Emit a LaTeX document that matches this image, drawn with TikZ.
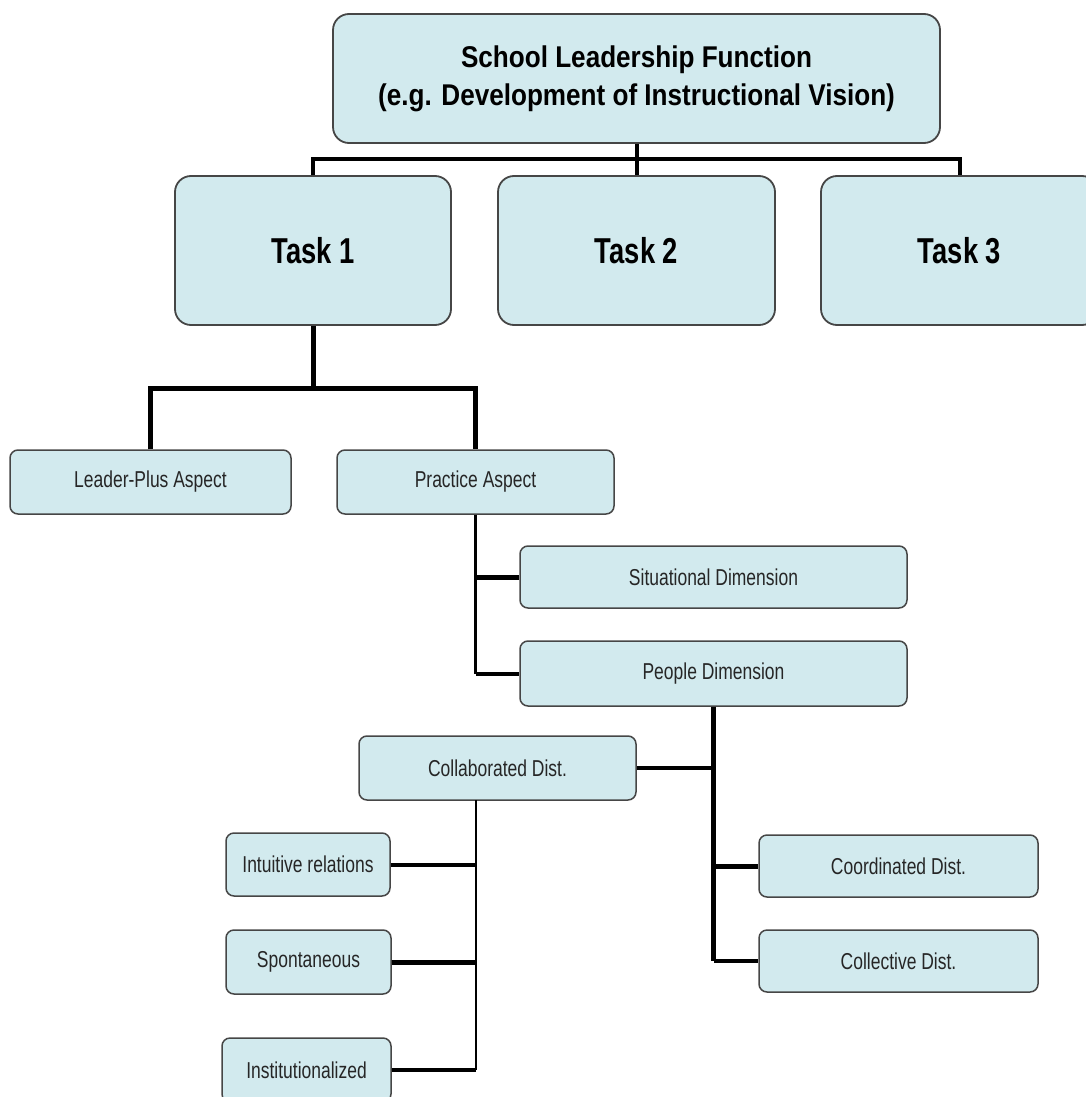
\documentclass[tikz,border=0pt]{standalone}
\usepackage{fontspec}
\setmainfont{Liberation Sans}
\newfontfamily\topfont[FakeStretch=0.87]{Liberation Sans}
\newfontfamily\taskfont[FakeStretch=0.76]{Liberation Sans}
\newfontfamily\smallfont[FakeStretch=0.76]{Liberation Sans}
\definecolor{boxfill}{RGB}{210,234,238}
\definecolor{boxline}{RGB}{70,70,70}
\tikzset{
  bigbox/.style={draw=boxline, line width=1.8pt, fill=boxfill, rounded corners=16pt, inner sep=0pt, align=center},
  smallbox/.style={draw=boxline, line width=1.5pt, fill=boxfill, rounded corners=8pt, inner sep=0pt, align=center,
     font=\smallfont\fontsize{23}{25}\selectfont, text=black!85},
  conn/.style={line width=4pt, black},
  thinconn/.style={line width=2.8pt, black},
  thickconn/.style={line width=5pt, black},
}
\begin{document}
\begin{tikzpicture}[x=1pt,y=-1pt]
\useasboundingbox (0,0) rectangle (1086,1097);
\clip (0,0) rectangle (1086,1097);
% nodes
\node[bigbox, minimum width=607pt, minimum height=129pt, font=\topfont\bfseries\fontsize{30}{38}\selectfont] (top) at (636.5,78.5)
  {School Leadership Function\\(e.g. Development of Instructional Vision)};
\node[bigbox, minimum width=276pt, minimum height=149pt, font=\taskfont\bfseries\fontsize{36}{40}\selectfont] (t1) at (313,250.5) {Task 1};
\node[bigbox, minimum width=277pt, minimum height=149pt, font=\taskfont\bfseries\fontsize{36}{40}\selectfont] (t2) at (636.5,250.5) {Task 2};
\node[bigbox, minimum width=277pt, minimum height=149pt, font=\taskfont\bfseries\fontsize{36}{40}\selectfont] (t3) at (959.5,250.5) {Task 3};
\node[smallbox, minimum width=281pt, minimum height=64pt] (lp) at (150.5,482) {Leader-Plus Aspect};
\node[smallbox, minimum width=277pt, minimum height=64pt] (pa) at (475.5,482) {Practice Aspect};
\node[smallbox, minimum width=387pt, minimum height=62pt] (sd) at (713.5,577) {Situational Dimension};
\node[smallbox, minimum width=387pt, minimum height=65pt] (pd) at (713.5,673.5) {People Dimension};
\node[smallbox, minimum width=277pt, minimum height=64pt] (cd) at (497.5,768) {Collaborated Dist.};
\node[smallbox, minimum width=279pt, minimum height=62pt] (co) at (898.5,866) {Coordinated Dist.};
\node[smallbox, minimum width=279pt, minimum height=62pt] (ce) at (898.5,961) {Collective Dist.};
\node[smallbox, minimum width=164pt, minimum height=63pt] (ir) at (308,864.5) {Intuitive relations};
\node[smallbox, minimum width=165pt, minimum height=64pt] (sp) at (308.5,962) {Spontaneous};
\node[smallbox, minimum width=169pt, minimum height=64pt] (in) at (306.5,1070) {Institutionalized};
% junction coordinates
\coordinate (bar) at (636.5,159);
\coordinate (j1) at (313,388);
\coordinate (cdj) at (476,800);
% connectors
\draw[conn] (top.south) -- (t2.north);
\draw[conn] (t1.north) |- (bar) -| (t3.north);
\draw[thickconn] (t1.south) -- (j1);
\draw[thickconn] (lp.north) |- (j1) -| (pa.north);
\draw[thinconn] (pa.south) -- (pa.south |- pd.west);
\draw[thickconn] (pa.south |- sd.west) -- (sd.west);
\draw[conn] (pa.south |- pd.west) -- (pd.west);
\draw[thickconn] (pd.south) -- (pd.south |- ce.west);
\draw[conn] (cd.east) -- (pd.south |- cd.east);
\draw[thickconn] (pd.south |- co.west) -- (co.west);
\draw[conn] (pd.south |- ce.west) -- (ce.west);
\draw[thinconn] (cdj) -- (cdj |- in.east);
\draw[conn] (ir.east) -- (cdj |- ir.east);
\draw[thickconn] (sp.east) -- (cdj |- sp.east);
\draw[conn] (in.east) -- (cdj |- in.east);
\end{tikzpicture}
\end{document}
